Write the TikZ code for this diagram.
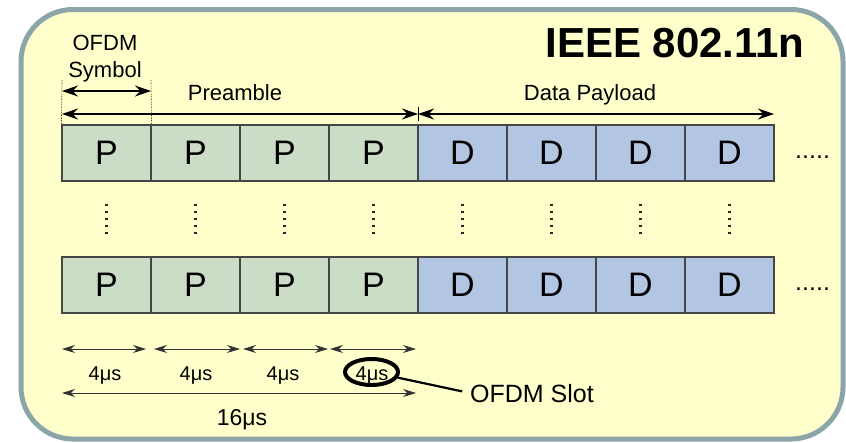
\documentclass[tikz,border=0pt]{standalone}
\usepackage{fontspec}
\setmainfont{Liberation Sans}
\usetikzlibrary{arrows.meta,shapes.geometric}

\definecolor{panelfill}{RGB}{255,255,204}
\definecolor{panelline}{RGB}{140,165,168}
\definecolor{pgreen}{RGB}{204,221,199}
\definecolor{dblue}{RGB}{178,197,227}
\definecolor{cellline}{RGB}{70,70,70}
\definecolor{slotgray}{RGB}{50,50,50}
\newcommand{\fsz}[1]{\fontsize{#1}{#1}\selectfont}

\begin{document}
\begin{tikzpicture}[x=1pt,y=-1pt,node distance=89pt,auto]
	\tikzstyle{pcell} = [rectangle, draw=cellline, line width=1.2pt, fill=pgreen, minimum width=89pt, minimum height=56pt, inner sep=0pt, font=\fsz{34}];
	\tikzstyle{dcell} = [pcell, fill=dblue];
	\tikzstyle{lbl} = [anchor=base, inner sep=0pt, font=\fsz{22}];
	\tikzstyle{span} = [draw=black, line width=1.2pt, {Stealth[length=16pt,width=11pt]}-{Stealth[length=16pt,width=11pt]}];
	\tikzstyle{slotspan} = [draw=slotgray, line width=1pt, {Stealth[length=13pt,width=8pt]}-{Stealth[length=13pt,width=8pt]}];
	\tikzstyle{guide} = [draw=black, line width=0.6pt, densely dotted];
	\tikzstyle{vdots} = [draw=black!85, line width=2.5pt, dash pattern=on 2.5pt off 4.5pt, shorten <=22pt, shorten >=21.5pt];

	\useasboundingbox (0,0) rectangle (846,442);
	\draw [fill=panelfill, draw=panelline, line width=5pt, rounded corners=52pt] (21,9.5) rectangle (843,439);
	\draw node [lbl, font=\bfseries\fsz{42}] (title) at (675,57) {IEEE 802.11n};

	% first row
	\draw node [pcell] (p1) at (106.5,153) {P};
	\draw node [pcell, right of=p1] (p2) {P};
	\draw node [pcell, right of=p2] (p3) {P};
	\draw node [pcell, right of=p3] (p4) {P};
	\draw node [dcell, right of=p4] (d1) {D};
	\draw node [dcell, right of=d1] (d2) {D};
	\draw node [dcell, right of=d2] (d3) {D};
	\draw node [dcell, right of=d3] (d4) {D};
	\draw node [anchor=base west, inner sep=0pt, font=\fsz{25}] (more1) at (795,158.5) {.....};

	% last row
	\draw node [pcell, below of=p1, node distance=132pt] (q1) {P};
	\draw node [pcell, right of=q1] (q2) {P};
	\draw node [pcell, right of=q2] (q3) {P};
	\draw node [pcell, right of=q3] (q4) {P};
	\draw node [dcell, right of=q4] (e1) {D};
	\draw node [dcell, right of=e1] (e2) {D};
	\draw node [dcell, right of=e2] (e3) {D};
	\draw node [dcell, right of=e3] (e4) {D};
	\draw node [anchor=base west, inner sep=0pt, font=\fsz{25}] (more2) at (795,290.5) {.....};

	\draw [vdots] (p1) -- (q1);
	\draw [vdots] (p2) -- (q2);
	\draw [vdots] (p3) -- (q3);
	\draw [vdots] (p4) -- (q4);
	\draw [vdots] (d1) -- (e1);
	\draw [vdots] (d2) -- (e2);
	\draw [vdots] (d3) -- (e3);
	\draw [vdots] (d4) -- (e4);

	% symbol / preamble / payload
	\draw node [lbl] (ofdm) at (105,50) {OFDM};
	\draw node [lbl] (sym) at (105,77) {Symbol};
	\draw node [lbl] (pre) at (235,100) {Preamble};
	\draw node [lbl] (data) at (590,100) {Data Payload};
	\coordinate (g0) at (62,80);
	\coordinate (g1) at (151,80);
	\draw [guide] (g0) -- (p1.north west);
	\draw [guide] (g1) -- (p1.north east);
	\coordinate (sym0) at (62,91);
	\coordinate (sym1) at (151,91);
	\draw [span] (sym0) -- (sym1);
	\coordinate (pre0) at (62,114);
	\coordinate (mid) at (418,114);
	\coordinate (dat1) at (774,114);
	\draw [span] (pre0) -- (mid);
	\draw [span] (mid) -- (dat1);
	\coordinate (tick0) at (418,107);
	\coordinate (tick1) at (418,121);
	\draw [line width=0.8pt] (tick0) -- (tick1);

	% slot times
	\coordinate (s0) at (62,349);
	\coordinate (s1) at (146,349);
	\coordinate (s2) at (154,349);
	\coordinate (s3) at (240,349);
	\coordinate (s4) at (243,349);
	\coordinate (s5) at (328,349);
	\coordinate (s6) at (330,349);
	\coordinate (s7) at (416,349);
	\draw [slotspan] (s0) -- (s1);
	\draw [slotspan] (s2) -- (s3);
	\draw [slotspan] (s4) -- (s5);
	\draw [slotspan] (s6) -- (s7);
	\draw node [lbl, font=\fsz{20}] (us1) at (105,380) {4μs};
	\draw node [lbl, font=\fsz{20}] (us2) at (196,380) {4μs};
	\draw node [lbl, font=\fsz{20}] (us3) at (283,380) {4μs};
	\draw node [lbl, font=\fsz{20}] (us4) at (372,380) {4μs};
	\coordinate (t0) at (62,393);
	\coordinate (t1) at (416,393);
	\draw [slotspan] (t0) -- (t1);
	\draw node [lbl, font=\fsz{23}] (total) at (242,425) {16μs};

	% slot callout
	\draw node [ellipse, draw=black, line width=4pt, minimum width=53pt, minimum height=26pt, inner sep=0pt] (ring) at (371.5,372) {};
	\draw node [lbl, anchor=base west, font=\fsz{25}] (slot) at (470,402) {OFDM Slot};
	\draw [line width=2.2pt, shorten >=8pt] (ring) -- (slot.west);
\end{tikzpicture}
\end{document}
